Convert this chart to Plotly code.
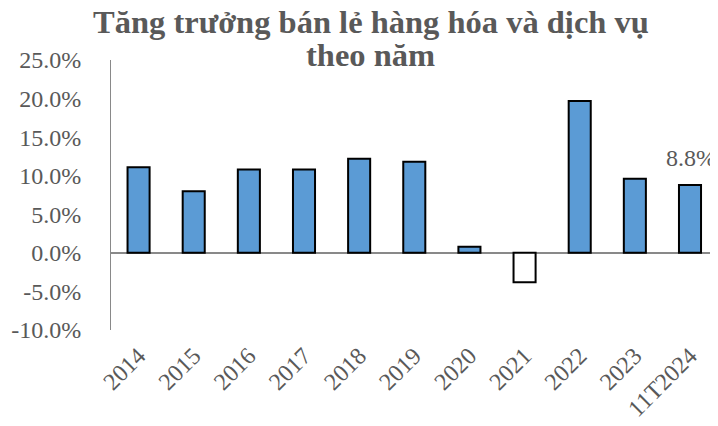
import plotly.graph_objects as go

categories = ["2014", "2015", "2016", "2017", "2018", "2019", "2020", "2021", "2022", "2023", "11T2024"]
growth = [0.111, 0.080, 0.108, 0.108, 0.122, 0.118, 0.008, -0.038, 0.197, 0.096, 0.088]
y_ticks = [-0.10, -0.05, 0.0, 0.05, 0.10, 0.15, 0.20, 0.25]
y_tick_labels = ["-10.0%", "-5.0%", "0.0%", "5.0%", "10.0%", "15.0%", "20.0%", "25.0%"]
title_line1 = "Tăng trưởng bán lẻ hàng hóa và dịch vụ"
title_line2 = "theo năm"
label_index = 10

fill_colors = ["#FFFFFF" if v < 0 else "#5B9BD5" for v in growth]

FONT = "Liberation Serif, Times New Roman, serif"
GRAY = "#595959"

# the page body has an 8px default margin, so the figure is sized/placed to compensate
W, H = 710, 418
L, T, B = 103, 52, 96
PH = H - T - B

fig = go.Figure()
fig.add_trace(go.Bar(
    x=categories,
    y=growth,
    marker=dict(color=fill_colors, line=dict(color="#000000", width=2)),
    hoverinfo="skip",
))

fig.add_annotation(
    x=categories[label_index], y=growth[label_index],
    text=f"{growth[label_index]*100:.1f}%",
    showarrow=False, yanchor="bottom", yshift=12, xshift=1,
    font=dict(family=FONT, size=24, color=GRAY),
)

fig.add_annotation(
    xref="paper", yref="paper", x=0.428, y=(PH + T - 14) / PH,
    text=f"<b>{title_line1}</b>", showarrow=False,
    xanchor="center", yanchor="middle",
    font=dict(family=FONT, size=32.5, color=GRAY),
)
fig.add_annotation(
    xref="paper", yref="paper", x=0.428, y=(PH + T - 47) / PH,
    text=f"<b>{title_line2}</b>", showarrow=False,
    xanchor="center", yanchor="middle",
    font=dict(family=FONT, size=32.5, color=GRAY),
)

fig.update_layout(
    width=W, height=H,
    margin=dict(l=L, r=0, t=T, b=B, autoexpand=False),
    paper_bgcolor="white", plot_bgcolor="white",
    bargap=0.6,
    showlegend=False,
    font=dict(family=FONT, color=GRAY),
)
fig.update_xaxes(
    type="category",
    tickangle=-45,
    tickfont=dict(family=FONT, size=24, color=GRAY),
    showgrid=False, showline=False, ticks="",
    ticklabelstandoff=6,
    automargin=False,
)
fig.update_yaxes(
    range=[-0.10, 0.25],
    tickmode="array", tickvals=y_ticks, ticktext=y_tick_labels,
    tickfont=dict(family=FONT, size=24, color=GRAY),
    showgrid=False, showline=True, linecolor="#898989", linewidth=1,
    zeroline=True, zerolinecolor="#898989", zerolinewidth=1.5,
    ticks="", ticklabelstandoff=24,
    automargin=False,
)

fig.write_html("out.html")
